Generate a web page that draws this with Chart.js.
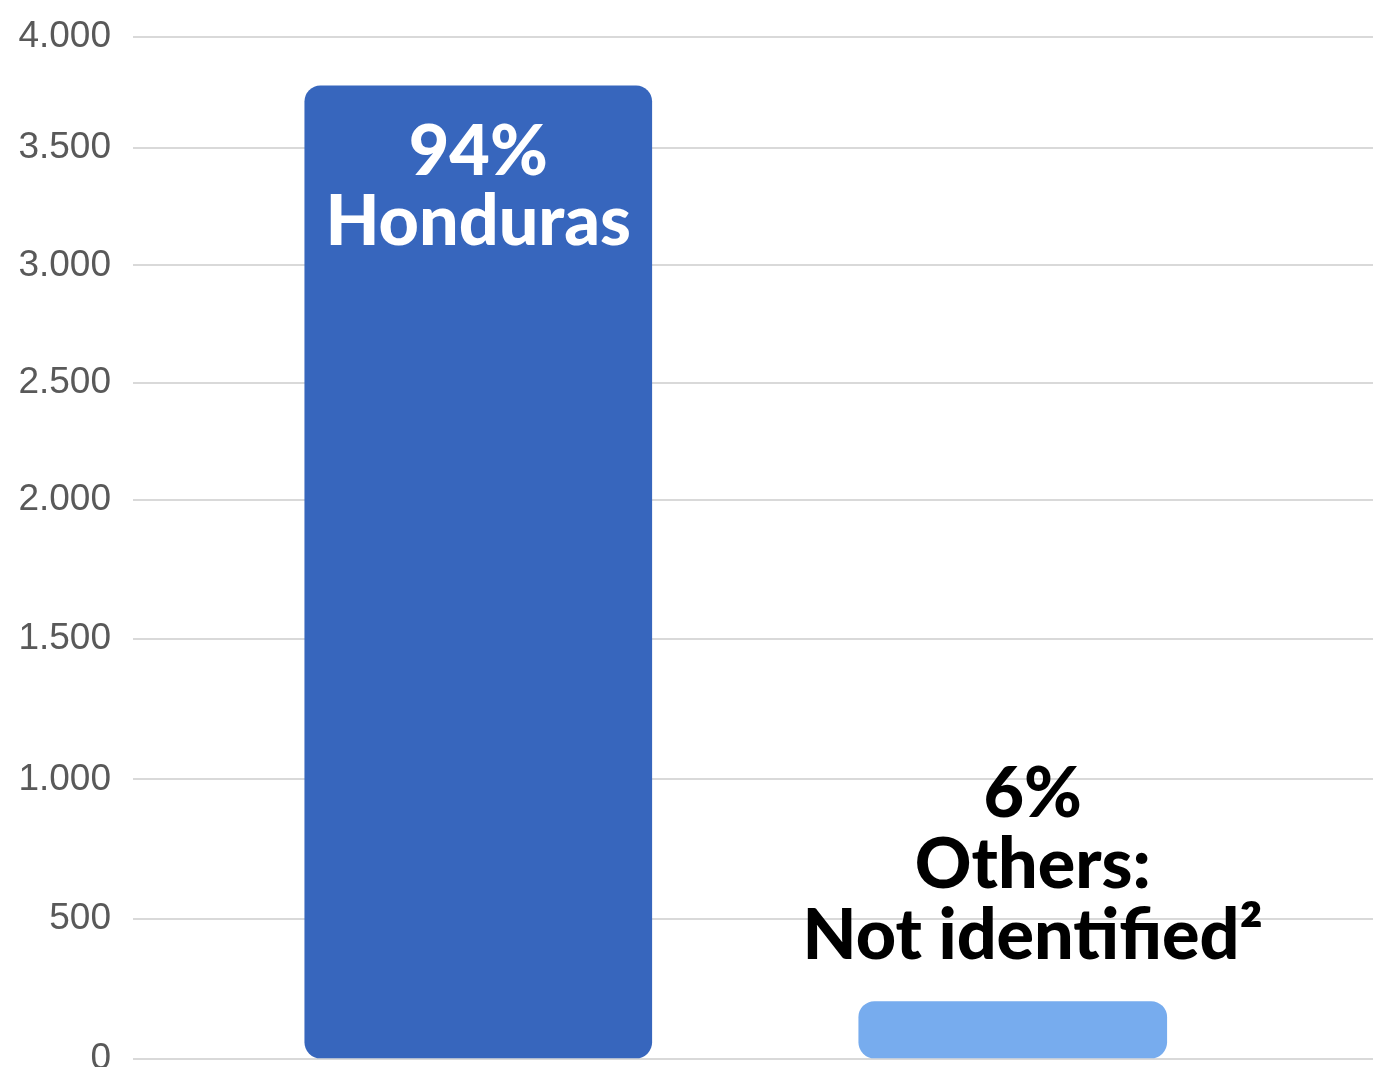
<!DOCTYPE html>
<html>
<head>
<meta charset="utf-8">
<script src="https://cdn.jsdelivr.net/npm/chart.js@4/dist/chart.umd.min.js"></script>
<style>
  html, body { margin: 0; padding: 0; background: #fff; }
  #wrap { width: 1388px; height: 1067px; }
</style>
</head>
<body>
<div id="wrap"><canvas id="chart"></canvas></div>
<script>
// Chart data
const categories = ['Honduras', 'Others'];
const counts = [3780, 205];
const shares = ['94%', '6%'];
const nameLines = [['Honduras'], ['Others:', 'Not identified²']];
const yTicks = [0, 500, 1000, 1500, 2000, 2500, 3000, 3500, 4000];

// Colors
const barColors = ['#3766BD', '#77ACEE'];
const barWidths = [347, 308];

// The original axis is not evenly spaced: where each tick sits along the axis (0 = bottom, 1 = top)
const tickStops = [0, 0.1373, 0.2735, 0.4108, 0.5471, 0.6618, 0.7765, 0.8912, 1];

function valueToDecimal(v) {
  for (let i = 1; i < yTicks.length; i++) {
    if (v <= yTicks[i] || i === yTicks.length - 1) {
      const t = (v - yTicks[i - 1]) / (yTicks[i] - yTicks[i - 1]);
      return tickStops[i - 1] + t * (tickStops[i] - tickStops[i - 1]);
    }
  }
  return 0;
}

function decimalToValue(d) {
  for (let i = 1; i < tickStops.length; i++) {
    if (d <= tickStops[i] || i === tickStops.length - 1) {
      const t = (d - tickStops[i - 1]) / (tickStops[i] - tickStops[i - 1]);
      return yTicks[i - 1] + t * (yTicks[i] - yTicks[i - 1]);
    }
  }
  return 0;
}

// Linear scale with piecewise tick spacing
class StopScale extends Chart.LinearScale {
  getPixelForValue(value) {
    if (value === null || value === undefined) return NaN;
    return this.getPixelForDecimal(valueToDecimal(value));
  }
  getValueForPixel(pixel) {
    return decimalToValue(this.getDecimalForPixel(pixel));
  }
}
StopScale.id = 'stops';
StopScale.defaults = Chart.LinearScale.defaults;
Chart.register(StopScale);

// Percent + name labels on each bar
const barLabels = {
  id: 'barLabels',
  afterDatasetsDraw(chart) {
    const ctx = chart.ctx;
    ctx.save();
    ctx.font = '900 70px Lato, "DejaVu Sans", sans-serif';
    ctx.textAlign = 'center';
    ctx.textBaseline = 'alphabetic';
    chart.data.datasets.forEach((ds, i) => {
      const bar = chart.getDatasetMeta(i).data[0];
      if (!bar) return;
      const lines = [shares[i]].concat(nameLines[i]);
      const barHeight = bar.base - bar.y;
      const needed = lines.length * 70 + 60;
      if (barHeight > needed) {
        // inside the bar, near the top
        ctx.fillStyle = '#ffffff';
        lines.forEach((line, k) => {
          ctx.fillText(line, bar.x, bar.y + 89 + k * 70);
        });
      } else {
        // above the bar
        ctx.fillStyle = '#000000';
        const x = bar.x + 20;
        lines.forEach((line, k) => {
          const fromBottom = lines.length - 1 - k;
          ctx.fillText(line, x, bar.y - 42 - fromBottom * 71);
        });
      }
    });
    ctx.restore();
  }
};

const datasets = categories.map((name, i) => ({
  label: name,
  data: [{ x: i + 1, y: counts[i] }],
  backgroundColor: barColors[i],
  borderRadius: 16,
  borderSkipped: false,
  barThickness: barWidths[i],
  grouped: false
}));

new Chart(document.getElementById('chart'), {
  type: 'bar',
  data: { datasets: datasets },
  options: {
    responsive: true,
    maintainAspectRatio: false,
    animation: false,
    layout: {
      padding: { top: 37, bottom: 8, left: 0, right: 15 }
    },
    plugins: {
      legend: { display: false },
      tooltip: { enabled: false }
    },
    scales: {
      x: {
        type: 'linear',
        display: false,
        offset: false,
        min: 0.354,
        max: 2.674
      },
      y: {
        type: 'stops',
        min: 0,
        max: 4000,
        afterBuildTicks: (scale) => {
          scale.ticks = yTicks.map(v => ({ value: v }));
        },
        afterFit: (scale) => {
          scale.width = 133;
          scale.paddingTop = 0;
          scale.paddingBottom = 0;
        },
        border: { display: false },
        grid: {
          color: '#d9d9d9',
          lineWidth: 2,
          drawTicks: false
        },
        ticks: {
          padding: 22,
          color: '#595959',
          font: { family: '"Liberation Sans Narrow", "Liberation Sans", sans-serif', size: 37 },
          callback: (v) => v.toLocaleString('de-DE')
        }
      }
    }
  },
  plugins: [barLabels]
});
</script>
</body>
</html>
